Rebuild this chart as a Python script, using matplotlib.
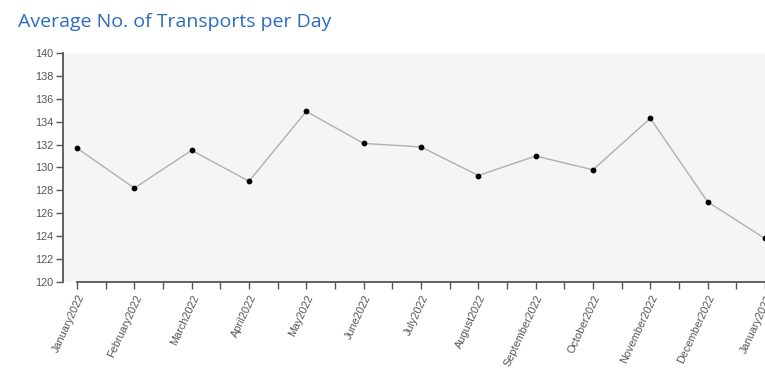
import matplotlib
matplotlib.use('Agg')
import matplotlib.pyplot as plt
from matplotlib.ticker import MultipleLocator

plt.rcParams['font.family'] = ['Liberation Sans', 'DejaVu Sans']

months = ['January2022', 'February2022', 'March2022', 'April2022', 'May2022',
          'June2022', 'July2022', 'August2022', 'September2022', 'October2022',
          'November2022', 'December2022', 'January2023']
transports = [131.7, 128.2, 131.5, 128.8, 134.9, 132.1, 131.8,
              129.3, 131.0, 129.8, 134.3, 127.0, 123.8]
yticks = list(range(120, 141, 2))

W, H = 765, 370
fig = plt.figure(figsize=(W / 100, H / 100), dpi=100)
fig.patch.set_facecolor('white')

ax = fig.add_axes([63 / W, 1 - 282 / H, (W - 63) / W, (282 - 53) / H])
ax.set_facecolor('#f5f5f5')

x = list(range(len(months)))
ax.plot(x, transports, color='#b0b0b0', linewidth=1, zorder=2)
ax.scatter(x, transports, s=10, color='black', zorder=3)

step = 57.55
ax.set_xlim(-(77 - 63) / step, (765 - 77) / step)
ax.set_ylim(120, 140)

ax.set_xticks(x)
ax.set_xticklabels(months, rotation=65, ha='right', va='top',
                   rotation_mode='anchor', fontsize=7.8, color='#555555')
ax.xaxis.set_minor_locator(MultipleLocator(0.5))
ax.set_yticks(yticks)
ax.set_yticklabels([str(v) for v in yticks], fontsize=7.8, color='#555555')

ax.tick_params(axis='both', which='both', length=5, width=1, color='#555555')
ax.tick_params(axis='y', pad=2)
ax.tick_params(axis='x', pad=3)

for side in ['top', 'right']:
    ax.spines[side].set_visible(False)
for side in ['left', 'bottom']:
    ax.spines[side].set_color('#555555')
    ax.spines[side].set_linewidth(1.3)
ax.spines['bottom'].set_bounds(0, 13)

fig.text(18 / W, 1 - 27 / H, 'Average No. of Transports per Day',
         fontsize=14, color='#2b6cbf', family=['Open Sans', 'DejaVu Sans'],
         ha='left', va='baseline')

fig.savefig('out.png', dpi=100)
